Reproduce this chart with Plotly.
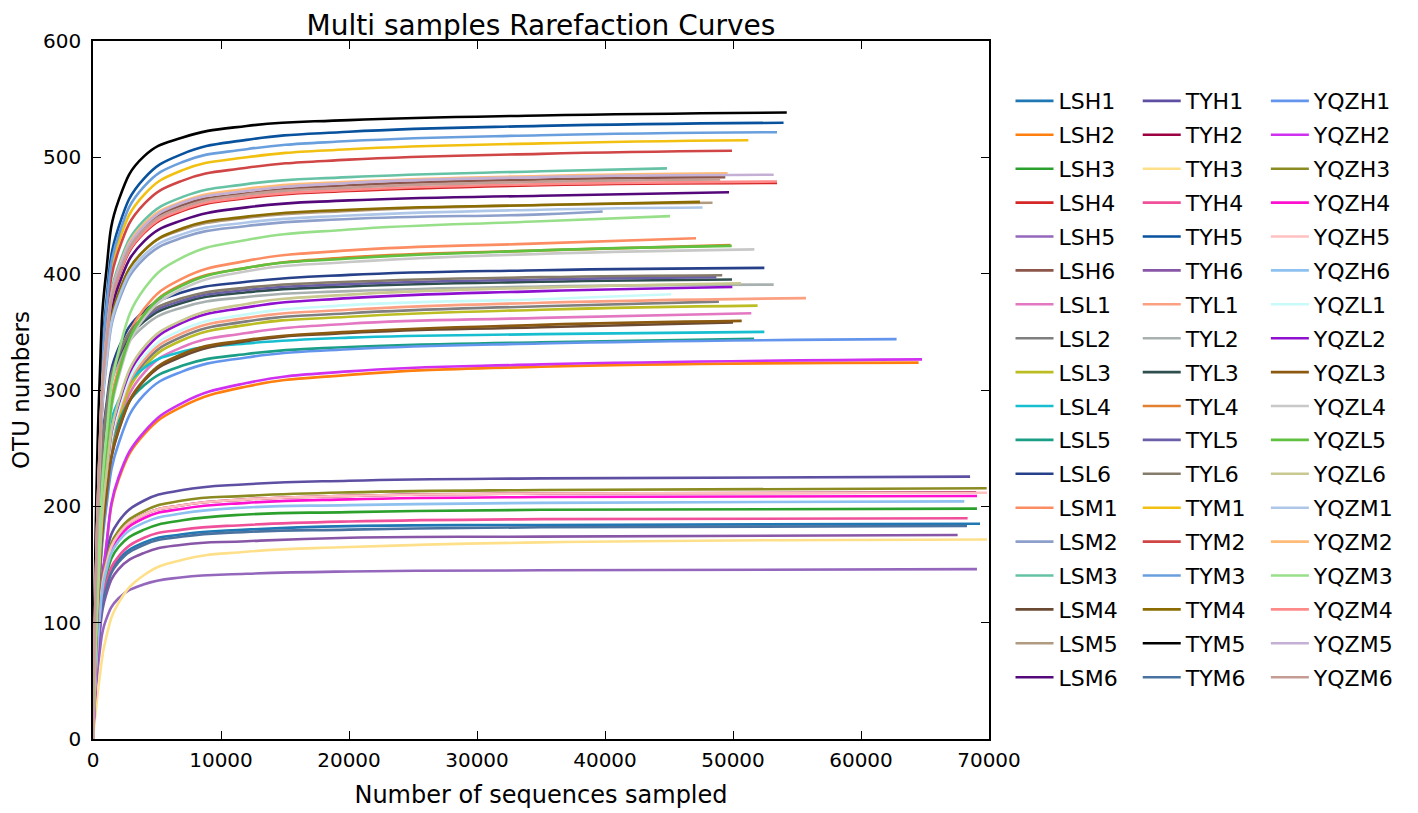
import plotly.graph_objects as go

DEPTHS = [0, 500, 1000, 2000, 4000, 7000, 12000, 20000, 35000]

# ---- LS samples ----
LS_names = ["LSH1", "LSH2", "LSH3", "LSH4", "LSH5", "LSH6",
            "LSL1", "LSL2", "LSL3", "LSL4", "LSL5", "LSL6",
            "LSM1", "LSM2", "LSM3", "LSM4", "LSM5", "LSM6"]
LS_end = [69300, 64500, 69060, 53440, 69060, 49400,
          51430, 48900, 51920, 52450, 51650, 52450,
          47110, 39820, 44840, 50000, 48400, 49690]
LS_otu = [
    [0, 93, 130, 154, 169, 176, 180, 183, 184, 185],
    [0, 97, 162, 223, 262, 286, 303, 313, 320, 323.5],
    [0, 99, 139, 165, 180, 188, 193, 195, 197, 198],
    [0, 239, 335, 397, 435, 454, 465, 471, 476, 478],
    [0, 73, 102, 121, 133, 139, 142, 144, 145, 146],
    [0, 242, 338, 401, 440, 459, 469, 476, 481, 483],
    [0, 139, 209, 271, 315, 337, 349, 357, 362, 366],
    [0, 143, 214, 278, 323, 346, 359, 366, 372, 376],
    [0, 142, 212, 276, 320, 343, 356, 363, 369, 372.5],
    [0, 175, 245, 291, 319, 333, 340, 345, 348, 350],
    [0, 151, 220, 272, 304, 321, 331, 337, 341, 344],
    [0, 202, 283, 336, 368, 384, 393, 399, 403, 405],
    [0, 164, 245, 319, 370, 396, 411, 420, 426, 430.5],
    [0, 227, 317, 376, 413, 431, 441, 447, 451, 453.5],
    [0, 245, 343, 407, 446, 466, 477, 483, 488, 490.5],
    [0, 136, 204, 265, 308, 329, 342, 349, 354, 358],
    [0, 230, 323, 383, 420, 438, 448, 454, 459, 461],
    [0, 235, 329, 390, 428, 446, 457, 463, 467, 470],
]

# ---- TY samples ----
TY_names = ["TYH1", "TYH2", "TYH3", "TYH4", "TYH5", "TYH6",
            "TYL1", "TYL2", "TYL3", "TYL4", "TYL5", "TYL6",
            "TYM1", "TYM2", "TYM3", "TYM4", "TYM5", "TYM6"]
TY_end = [68520, 69000, 69840, 68330, 53950, 67550,
          55700, 53180, 49920, 49800, 48700, 49160,
          51200, 49920, 53440, 47420, 54200, 68280]
TY_otu = [
    [0, 113, 158, 187, 205, 214, 219, 222, 224, 225.5],
    [0, 106, 148, 176, 193, 201, 206, 209, 211, 212],
    [0, 51, 86, 117, 141, 154, 161, 165, 169, 171.5],
    [0, 95, 133, 157, 173, 180, 184, 187, 189, 189.7],
    [0, 265, 371, 440, 482, 503, 515, 522, 527, 529.7],
    [0, 88, 123, 146, 160, 167, 170, 173, 174, 175.4],
    [0, 144, 216, 280, 326, 349, 362, 369, 375, 379],
    [0, 195, 273, 324, 355, 371, 380, 385, 389, 390.6],
    [0, 198, 276, 328, 359, 375, 384, 389, 393, 395],
    [0, 161, 242, 314, 365, 391, 405, 414, 420, 424.5],
    [0, 198, 278, 330, 361, 377, 386, 391, 395, 397],
    [0, 199, 279, 331, 363, 379, 388, 393, 397, 398.7],
    [0, 257, 360, 427, 468, 489, 500, 507, 512, 514.7],
    [0, 253, 354, 420, 460, 480, 491, 498, 503, 505.6],
    [0, 261, 365, 433, 475, 496, 507, 514, 519, 521.6],
    [0, 231, 323, 383, 420, 439, 449, 455, 459, 461.7],
    [0, 302, 398, 463, 501, 517, 527, 532, 536, 538.5],
    [0, 92, 128, 152, 167, 174, 178, 180, 182, 183.1],
]

# ---- YQZ samples ----
YQZ_names = ["YQZH1", "YQZH2", "YQZH3", "YQZH4", "YQZH5", "YQZH6",
             "YQZL1", "YQZL2", "YQZL3", "YQZL4", "YQZL5", "YQZL6",
             "YQZM1", "YQZM2", "YQZM3", "YQZM4", "YQZM5", "YQZM6"]
YQZ_end = [62780, 64770, 69820, 69060, 69850, 68070,
           45160, 49950, 50680, 51670, 49900, 50625,
           47620, 49580, 45080, 53440, 53180, 49000]
YQZ_otu = [
    [0, 131, 196, 254, 296, 316, 328, 335, 340, 343.7],
    [0, 98, 163, 225, 264, 289, 306, 316, 322, 326.3],
    [0, 108, 151, 179, 196, 205, 209, 212, 214, 215.5],
    [0, 104, 146, 173, 190, 198, 203, 206, 208, 208.9],
    [0, 106, 148, 176, 193, 201, 206, 209, 211, 211.7],
    [0, 102, 143, 170, 186, 194, 199, 201, 203, 204.3],
    [0, 145, 218, 283, 329, 352, 365, 373, 378, 382.3],
    [0, 148, 222, 288, 334, 358, 371, 379, 385, 388.6],
    [0, 137, 205, 266, 309, 331, 343, 350, 356, 359.4],
    [0, 160, 240, 311, 362, 387, 402, 410, 417, 420.9],
    [0, 161, 242, 314, 365, 390, 405, 413, 420, 423.9],
    [0, 149, 223, 290, 337, 360, 374, 382, 388, 391.8],
    [0, 228, 320, 379, 416, 434, 444, 450, 455, 456.9],
    [0, 243, 340, 404, 443, 462, 473, 479, 484, 486.3],
    [0, 171, 256, 333, 387, 414, 429, 438, 445, 449.5],
    [0, 240, 335, 398, 436, 455, 466, 472, 477, 479.2],
    [0, 243, 340, 403, 441, 461, 471, 478, 483, 485],
    [0, 241, 337, 399, 438, 457, 468, 474, 479, 481],
]

X_TICKS = [0, 10000, 20000, 30000, 40000, 50000, 60000, 70000]
Y_TICKS = [0, 100, 200, 300, 400, 500, 600]

# ---- styles ----
LS_colors = ["#1f77b4", "#ff7f0e", "#2ca02c", "#d62728", "#9467bd", "#8c564b",
             "#e377c2", "#7f7f7f", "#bcbd22", "#17becf", "#1b9e86", "#26418a",
             "#fc8d62", "#8da0cb", "#66c2a5", "#6b4a33", "#b09a80", "#54087a"]
TY_colors = ["#5e4fa2", "#9e0142", "#fee08b", "#f0509a", "#08519c", "#8856a7",
             "#fca082", "#a9b0b0", "#2f4f4f", "#e08030", "#6a5fa8", "#857b6a",
             "#f2c010", "#d04545", "#6a9fdd", "#8b6c00", "#000000", "#4a72a0"]
YQZ_colors = ["#6495ed", "#d030f0", "#8b8b22", "#ff10d0", "#ffc0c0", "#8ec0f0",
              "#c8fafa", "#9010d0", "#8b5a10", "#c8c8c8", "#60c040", "#c8c890",
              "#aec7e8", "#ffbb78", "#98df8a", "#ff8a8a", "#c5b0d5", "#c49c94"]

FONT = "DejaVu Sans"
fig = go.Figure()

groups = [
    (LS_names, LS_end, LS_otu, LS_colors, "legend"),
    (TY_names, TY_end, TY_otu, TY_colors, "legend2"),
    (YQZ_names, YQZ_end, YQZ_otu, YQZ_colors, "legend3"),
]
for names, ends, otus, colors, leg in groups:
    for name, end, otu, col in zip(names, ends, otus, colors):
        fig.add_trace(go.Scatter(
            x=DEPTHS + [end], y=otu, mode="lines", name=name,
            line=dict(color=col, width=2.6, shape="spline", smoothing=1.3),
            legend=leg, legendgroup=name, showlegend=True,
        ))

axis_common = dict(
    showline=True, linecolor="black", linewidth=1.5, mirror="ticks",
    ticks="inside", ticklen=8, tickwidth=1.2, tickcolor="black",
    showgrid=False, zeroline=False, automargin=False,
    tickfont=dict(family=FONT, size=20, color="black"),
)

leg_common = dict(
    font=dict(family=FONT, size=22, color="black"),
    bgcolor="rgba(0,0,0,0)", borderwidth=0,
    xanchor="left", yanchor="top", y=0.944, itemwidth=38,
    traceorder="grouped", tracegroupgap=2.3,
)

fig.update_layout(
    width=1418, height=813,
    margin=dict(l=85, r=437, t=33, b=82),
    plot_bgcolor="white", paper_bgcolor="white",
    font=dict(family=FONT, size=20, color="black"),
    title=dict(text="Multi samples Rarefaction Curves", x=0.5, xref="paper",
               xanchor="center", y=1 - 17 / 813, yanchor="middle",
               font=dict(family=FONT, size=28, color="black")),
    xaxis=dict(range=[0, 70000], tickvals=X_TICKS, ticktext=[str(v) for v in X_TICKS],
               title=dict(text="Number of sequences sampled", font=dict(family=FONT, size=24)),
               ticklabelstandoff=2, **axis_common),
    yaxis=dict(range=[0, 600], tickvals=Y_TICKS, ticktext=[str(v) for v in Y_TICKS],
               title=dict(text="OTU numbers", font=dict(family=FONT, size=23)),
               ticklabelstandoff=6, **axis_common),
    legend=dict(x=1.024, **leg_common),
    legend2=dict(x=1.166, **leg_common),
    legend3=dict(x=1.309, **leg_common),
)

fig.write_html("out.html")
